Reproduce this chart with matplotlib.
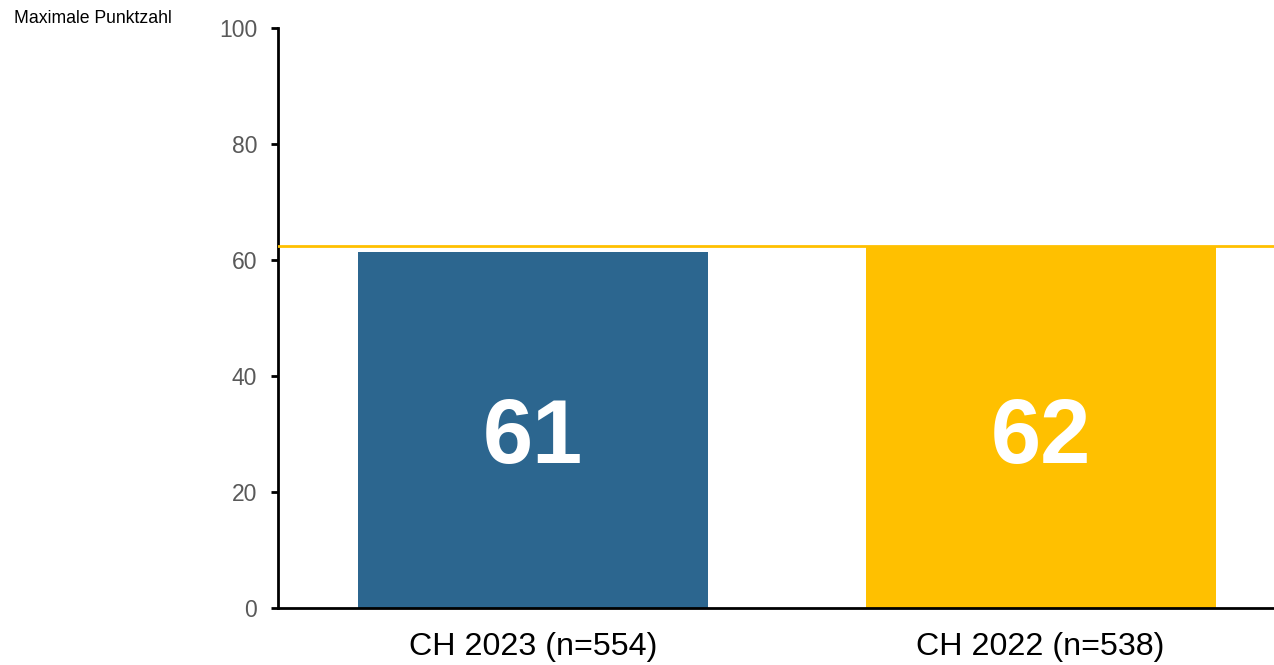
import numpy as np
import matplotlib.pyplot as plt

plt.rcParams['font.family'] = ['Liberation Sans', 'DejaVu Sans']

categories = ['CH 2023 (n=554)', 'CH 2022 (n=538)']
scores = [61.4, 62.4]
bar_colors = ['#2C668F', '#FFC000']
yticks = [0, 20, 40, 60, 80, 100]

fig = plt.figure(figsize=(12.74, 6.65), dpi=100)
ax = fig.add_axes([278 / 1274, 1 - 608 / 665, 1 - 278 / 1274, 580 / 665])

x = np.arange(len(categories))
bars = ax.bar(x, scores, width=0.69, color=bar_colors, zorder=2)

# reference line at the previous year's score
ax.axhline(scores[1], color='#FFC000', lw=2, zorder=3)

for b, v in zip(bars, scores):
    ax.text(b.get_x() + b.get_width() / 2, 29.0, f'{v:.0f}', ha='center', va='center',
            color='white', fontsize=65, fontweight='bold', zorder=4)

ax.set_xlim(-0.503, 1.46)
ax.set_ylim(0, 100)
ax.set_yticks(yticks)
ax.set_xticks(x)
ax.set_xticklabels(categories, fontsize=23.2, color='black')
ax.tick_params(axis='x', length=0, pad=17)
ax.tick_params(axis='y', labelsize=16.5, labelcolor='#595959', length=5, width=2, pad=10)

for side in ['top', 'right']:
    ax.spines[side].set_visible(False)
for side in ['left', 'bottom']:
    ax.spines[side].set_linewidth(2)

fig.text(14 / 1274, 1 - 10 / 665, 'Maximale Punktzahl', fontsize=12.7, va='top', ha='left')

fig.savefig('out.png', dpi=100)
